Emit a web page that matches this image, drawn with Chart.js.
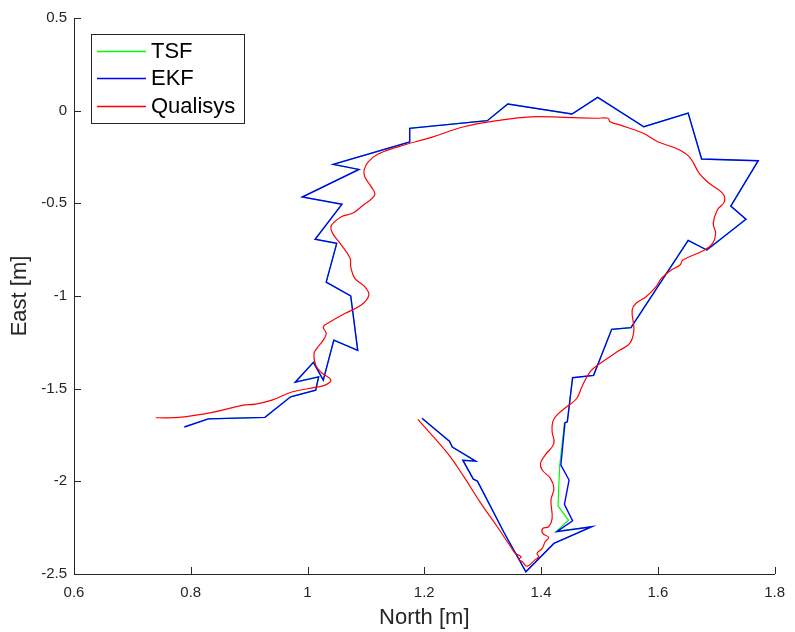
<!DOCTYPE html>
<html><head><meta charset="utf-8">
<script src="https://cdn.jsdelivr.net/npm/chart.js@4/dist/chart.umd.min.js"></script>
<style>html,body{margin:0;padding:0;background:#fff}#wrap{width:795px;height:632px}</style>
</head><body><div id="wrap"><canvas id="c" width="795" height="632"></canvas></div>
<script>
// ---- data ----
const tsfNorth = [0.789,0.830,0.927,0.971,1.014,1.019,0.979,1.010,1.027,1.045,1.086,1.074,1.032,1.050,1.013,1.059,0.991,1.088,1.044,1.175,1.175,1.308,1.343,1.453,1.497,1.576,1.652,1.675,1.772,1.725,1.751,1.684,1.652,1.554,1.521,1.490,1.454,1.445,1.440,1.432,1.429,1.447,1.427,1.487,1.422,1.374,1.337,1.291,1.284,1.266,1.288,1.248,1.243,1.196];
const tsfEast = [-1.707,-1.663,-1.655,-1.544,-1.508,-1.436,-1.465,-1.358,-1.454,-1.238,-1.293,-1.000,-0.925,-0.716,-0.694,-0.505,-0.466,-0.317,-0.290,-0.169,-0.095,-0.054,0.036,-0.018,0.072,-0.087,-0.013,-0.261,-0.270,-0.515,-0.586,-0.752,-0.700,-1.171,-1.180,-1.428,-1.441,-1.679,-1.684,-1.912,-2.133,-2.209,-2.268,-2.245,-2.335,-2.488,-2.279,-1.999,-1.988,-1.886,-1.891,-1.815,-1.783,-1.660];

const ekfNorth = [0.789,0.830,0.927,0.971,1.014,1.019,0.979,1.010,1.027,1.045,1.086,1.074,1.032,1.050,1.013,1.059,0.991,1.088,1.044,1.175,1.175,1.308,1.343,1.453,1.497,1.576,1.652,1.675,1.772,1.725,1.751,1.684,1.652,1.554,1.521,1.490,1.454,1.445,1.441,1.434,1.448,1.440,1.454,1.427,1.487,1.422,1.374,1.337,1.291,1.284,1.266,1.288,1.248,1.243,1.196];
const ekfEast = [-1.707,-1.663,-1.655,-1.544,-1.508,-1.436,-1.465,-1.358,-1.454,-1.238,-1.293,-1.000,-0.925,-0.716,-0.694,-0.505,-0.466,-0.317,-0.290,-0.169,-0.095,-0.054,0.036,-0.018,0.072,-0.087,-0.013,-0.261,-0.270,-0.515,-0.586,-0.752,-0.700,-1.171,-1.180,-1.428,-1.441,-1.679,-1.684,-1.912,-1.993,-2.124,-2.213,-2.272,-2.245,-2.335,-2.488,-2.279,-1.999,-1.988,-1.886,-1.891,-1.815,-1.783,-1.660];

const qualNorth = [0.740,0.780,0.837,0.888,0.911,0.939,0.973,1.013,1.030,1.040,
1.024,1.014,1.011,1.016,1.027,1.032,1.027,1.036,1.064,1.092,
1.105,1.098,1.081,1.074,1.073,1.058,1.043,1.040,1.046,1.058,
1.078,1.092,1.115,1.109,1.098,1.097,1.104,1.121,1.155,1.212,
1.268,1.325,1.382,1.439,1.495,1.515,1.518,1.535,1.575,1.600,
1.631,1.654,1.671,1.688,1.711,1.714,1.702,1.695,1.699,1.694,
1.680,1.643,1.638,1.623,1.606,1.597,1.580,1.563,1.556,1.559,
1.552,1.535,1.501,1.484,1.470,1.461,1.444,1.427,1.420,1.419,
1.422,1.407,1.399,1.402,1.416,1.422,1.417,1.419,1.413,1.403,
1.403,1.413,1.407,1.402,1.393,1.396,1.389,1.376,1.368,1.362,
1.366,1.356,1.348,1.325,1.297,1.268,1.240,1.189];
const qualEast = [-1.657,-1.655,-1.628,-1.590,-1.583,-1.562,-1.518,-1.493,-1.481,-1.454,
-1.414,-1.373,-1.310,-1.283,-1.238,-1.202,-1.166,-1.144,-1.094,-1.049,
-0.995,-0.950,-0.905,-0.842,-0.797,-0.725,-0.662,-0.626,-0.601,-0.572,
-0.552,-0.518,-0.455,-0.410,-0.357,-0.320,-0.276,-0.234,-0.195,-0.144,
-0.087,-0.054,-0.033,-0.036,-0.041,-0.041,-0.060,-0.077,-0.122,-0.168,
-0.203,-0.249,-0.338,-0.392,-0.446,-0.491,-0.536,-0.608,-0.662,-0.716,
-0.752,-0.806,-0.833,-0.860,-0.905,-0.950,-1.004,-1.038,-1.076,-1.184,
-1.256,-1.292,-1.364,-1.409,-1.490,-1.553,-1.598,-1.643,-1.679,-1.733,
-1.795,-1.859,-1.903,-1.939,-1.984,-2.038,-2.101,-2.200,-2.245,-2.254,
-2.281,-2.303,-2.326,-2.362,-2.389,-2.407,-2.425,-2.458,-2.434,-2.421,
-2.407,-2.389,-2.353,-2.245,-2.119,-1.976,-1.849,-1.666];

const seriesNames = ['TSF', 'EKF', 'Qualisys'];
const xTickValues = [0.6, 0.8, 1.0, 1.2, 1.4, 1.6, 1.8];
const xTickLabels = ['0.6', '0.8', '1', '1.2', '1.4', '1.6', '1.8'];
const yTickValues = [-2.5, -2, -1.5, -1, -0.5, 0, 0.5];
const yTickLabels = ['-2.5', '-2', '-1.5', '-1', '-0.5', '0', '0.5'];
const xTitle = 'North [m]';
const yTitle = 'East [m]';

// ---- helpers ----
const toPts = (xs, ys) => xs.map((x, i) => ({x: x, y: ys[i]}));
const AXIS = '#262626';
const FONT = "'Liberation Sans', Arial, Helvetica, sans-serif";

const inwardTicks = {
  id: 'inwardTicks',
  afterDatasetsDraw(chart) {
    const {ctx, chartArea: a} = chart;
    const x = chart.scales.x, y = chart.scales.y;
    ctx.save();
    ctx.strokeStyle = AXIS; ctx.lineWidth = 1;
    ctx.beginPath();
    xTickValues.forEach(v => {
      const px = Math.round(x.getPixelForValue(v)) + 0.5;
      ctx.moveTo(px, a.bottom); ctx.lineTo(px, a.bottom - 7);
    });
    yTickValues.forEach(v => {
      const py = Math.round(y.getPixelForValue(v)) + 0.5;
      ctx.moveTo(a.left, py); ctx.lineTo(a.left + 7, py);
    });
    ctx.stroke();
    ctx.restore();
  }
};

const boxLegend = {
  id: 'boxLegend',
  afterDraw(chart) {
    const {ctx, chartArea: a} = chart;
    const bx = a.left + 17, by = a.top + 16, bw = 153, bh = 89;
    ctx.save();
    ctx.fillStyle = '#ffffff';
    ctx.fillRect(bx, by, bw, bh);
    ctx.strokeStyle = AXIS; ctx.lineWidth = 1;
    ctx.strokeRect(bx + 0.5, by + 0.5, bw, bh);
    ctx.font = '22px ' + FONT;
    ctx.textBaseline = 'middle';
    ctx.fillStyle = '#000000';
    const rows = [17, 44, 72];
    chart.data.datasets.forEach((ds, i) => {
      const yy = by + rows[i];
      ctx.strokeStyle = ds.borderColor;
      ctx.lineWidth = 1.5;
      ctx.beginPath();
      ctx.moveTo(bx + 6, yy + 0.5); ctx.lineTo(bx + 55, yy + 0.5);
      ctx.stroke();
      ctx.fillText(ds.label, bx + 60, yy + 1);
    });
    ctx.restore();
  }
};

new Chart(document.getElementById('c'), {
  type: 'scatter',
  data: {
    datasets: [
      {label: seriesNames[0], data: toPts(tsfNorth, tsfEast), showLine: true, borderColor: '#00ff00', backgroundColor: '#00ff00', borderWidth: 1.2, pointRadius: 0, tension: 0, order: 3},
      {label: seriesNames[1], data: toPts(ekfNorth, ekfEast), showLine: true, borderColor: '#0000ff', backgroundColor: '#0000ff', borderWidth: 1.4, pointRadius: 0, tension: 0, order: 2},
      {label: seriesNames[2], data: toPts(qualNorth, qualEast), showLine: true, borderColor: '#ff0000', backgroundColor: '#ff0000', borderWidth: 1.2, pointRadius: 0, tension: 0.4, order: 1}
    ]
  },
  options: {
    responsive: false,
    animation: false,
    devicePixelRatio: 1,
    layout: {padding: {top: 18, right: 16, left: 0, bottom: 0}},
    plugins: {legend: {display: false}, tooltip: {enabled: false}},
    scales: {
      x: {
        type: 'linear', min: 0.6, max: 1.8,
        afterBuildTicks: s => { s.ticks = xTickValues.map(v => ({value: v})); },
        afterFit: s => { s.height = 58; },
        ticks: {
          callback: (v) => { const i = xTickValues.findIndex(t => Math.abs(t - v) < 1e-9); return i >= 0 ? xTickLabels[i] : ''; },
          font: {family: FONT, size: 15}, color: AXIS, padding: 10, maxRotation: 0, autoSkip: false
        },
        grid: {display: true, drawOnChartArea: false, drawTicks: false},
        border: {display: true, color: AXIS, width: 1},
        title: {display: true, text: xTitle, font: {family: FONT, size: 22}, color: AXIS, padding: {top: 0, bottom: 1}}
      },
      y: {
        type: 'linear', min: -2.5, max: 0.5,
        afterBuildTicks: s => { s.ticks = yTickValues.map(v => ({value: v})); },
        afterFit: s => { s.width = 74; },
        ticks: {
          callback: (v) => { const i = yTickValues.findIndex(t => Math.abs(t - v) < 1e-9); return i >= 0 ? yTickLabels[i] : ''; },
          font: {family: FONT, size: 15}, color: AXIS, padding: 7, autoSkip: false
        },
        grid: {display: true, drawOnChartArea: false, drawTicks: false},
        border: {display: true, color: AXIS, width: 1},
        title: {display: true, text: yTitle, font: {family: FONT, size: 22}, color: AXIS, padding: {top: 7, bottom: 0}}
      }
    }
  },
  plugins: [inwardTicks, boxLegend]
});
</script>
</body></html>
